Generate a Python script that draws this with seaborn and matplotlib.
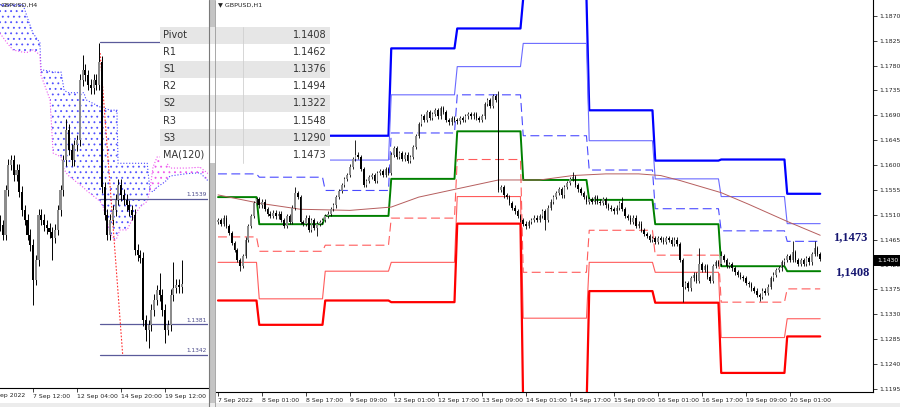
import numpy as np
import matplotlib
matplotlib.use("Agg")
import matplotlib.pyplot as plt
import seaborn as sns
from matplotlib.patches import Rectangle

# --- H1 chart (right panel) ---
h1_open0 = 1.1497
h1_close = [
    1.1501, 1.1494, 1.1505, 1.1490, 1.1477, 1.1459, 1.1446, 1.1428, 1.1417, 1.1435,
    1.1465, 1.1490, 1.1508, 1.1531, 1.1538, 1.1527, 1.1534, 1.1520, 1.1512, 1.1508,
    1.1514, 1.1507, 1.1512, 1.1501, 1.1490, 1.1508, 1.1497, 1.1523, 1.1549, 1.1542,
    1.1497, 1.1494, 1.1505, 1.1483, 1.1501, 1.1487, 1.1494, 1.1497, 1.1501, 1.1508,
    1.1512, 1.1520, 1.1527, 1.1542, 1.1553, 1.1564, 1.1575, 1.1582, 1.1597, 1.1611,
    1.1619, 1.1615, 1.1593, 1.1564, 1.1571, 1.1578, 1.1582, 1.1571, 1.1586, 1.1589,
    1.1582, 1.1593, 1.1586, 1.1619, 1.1630, 1.1615, 1.1622, 1.1611, 1.1619, 1.1608,
    1.1615, 1.1633, 1.1652, 1.1674, 1.1688, 1.1681, 1.1696, 1.1685, 1.1692, 1.1699,
    1.1688, 1.1703, 1.1696, 1.1681, 1.1677, 1.1685, 1.1681, 1.1679, 1.1685, 1.1681,
    1.1688, 1.1692, 1.1688, 1.1692, 1.1685, 1.1681, 1.1688, 1.1710, 1.1718, 1.1707,
    1.1725, 1.1718, 1.1555, 1.1560, 1.1545, 1.1542, 1.1531, 1.1523, 1.1516, 1.1508,
    1.1501, 1.1494, 1.1490, 1.1497, 1.1501, 1.1505, 1.1501, 1.1508, 1.1516, 1.1501,
    1.1523, 1.1534, 1.1542, 1.1549, 1.1556, 1.1545, 1.1560, 1.1567, 1.1575, 1.1578,
    1.1564, 1.1556, 1.1549, 1.1542, 1.1534, 1.1538, 1.1534, 1.1542, 1.1534, 1.1531,
    1.1538, 1.1527, 1.1523, 1.1520, 1.1516, 1.1523, 1.1531, 1.1520, 1.1508, 1.1505,
    1.1497, 1.1505, 1.1490, 1.1494, 1.1483, 1.1475, 1.1472, 1.1465, 1.1468, 1.1461,
    1.1468, 1.1465, 1.1461, 1.1468, 1.1465, 1.1457, 1.1465, 1.1457, 1.1428, 1.1380,
    1.1387, 1.1377, 1.1395, 1.1402, 1.1391, 1.1421, 1.1410, 1.1417, 1.1398, 1.1391,
    1.1417, 1.1424, 1.1421, 1.1435, 1.1428, 1.1417, 1.1421, 1.1413, 1.1406, 1.1402,
    1.1398, 1.1395, 1.1387, 1.1384, 1.1377, 1.1373, 1.1365, 1.1362, 1.1373, 1.1369,
    1.1380, 1.1395, 1.1402, 1.1410, 1.1413, 1.1424, 1.1428, 1.1435, 1.1428, 1.1443,
    1.1428, 1.1421, 1.1428, 1.1421, 1.1432, 1.1424, 1.1439, 1.1450, 1.1439, 1.1430,
]
h1_hi_bars = [28, 50, 102, 129, 147, 175, 183, 209, 217]
h1_hi_vals = [1.1560, 1.1646, 1.1734, 1.1587, 1.1542, 1.1450, 1.1445, 1.1462, 1.1462]
h1_lo_bars = [8, 36, 112, 119, 169, 197]
h1_lo_vals = [1.1408, 1.1472, 1.1485, 1.1483, 1.1353, 1.1354]

# daily pivot levels, one value per day
day_start = [0, 15, 39, 63, 87, 111, 135, 159, 183, 207]
last_bar = 219
piv_p = [1.1542, 1.1493, 1.1508, 1.1575, 1.1661, 1.1573, 1.1537, 1.1493, 1.1417, 1.1408]
piv_r1 = [1.1584, 1.1578, 1.1554, 1.1658, 1.1727, 1.1653, 1.1591, 1.1521, 1.1481, 1.1462]
piv_r2 = [1.1659, 1.1627, 1.1609, 1.1727, 1.1778, 1.1820, 1.1644, 1.1575, 1.1543, 1.1494]
piv_r3 = [1.1702, 1.1713, 1.1653, 1.1811, 1.1847, 1.1902, 1.1699, 1.1608, 1.1610, 1.1548]
piv_s1 = [1.1470, 1.1444, 1.1455, 1.1504, 1.1610, 1.1406, 1.1482, 1.1437, 1.1352, 1.1376]
piv_s2 = [1.1424, 1.1358, 1.1408, 1.1424, 1.1543, 1.1323, 1.1424, 1.1406, 1.1288, 1.1322]
piv_s3 = [1.1355, 1.1311, 1.1355, 1.1352, 1.1494, 1.1156, 1.1372, 1.1351, 1.1224, 1.1290]

ma_bars = [0, 15, 30, 48, 63, 73, 87, 102, 117, 129, 141, 153, 161, 168, 183, 193, 207, 219]
ma_vals = [1.1546, 1.1531, 1.1520, 1.1518, 1.1524, 1.1542, 1.1557, 1.1573, 1.1573, 1.1581,
           1.1584, 1.1584, 1.1581, 1.1572, 1.1550, 1.1529, 1.1498, 1.1473]

h1_tick_bars = [0, 16, 32, 48, 64, 80, 96, 112, 128, 144, 160, 176, 192, 208]
h1_tick_labels = ["7 Sep 2022", "8 Sep 01:00", "8 Sep 17:00", "9 Sep 09:00", "12 Sep 01:00",
                  "12 Sep 17:00", "13 Sep 09:00", "14 Sep 01:00", "14 Sep 17:00", "15 Sep 09:00",
                  "16 Sep 01:00", "16 Sep 17:00", "19 Sep 09:00", "20 Sep 01:00"]
price_ticks = [1.1195, 1.1240, 1.1285, 1.1330, 1.1375, 1.1420, 1.1465, 1.1510,
               1.1555, 1.1600, 1.1645, 1.1690, 1.1735, 1.1780, 1.1825, 1.1870]

# --- H4 chart (left panel) ---
h4_open0 = 1.1512
h4_close = [
    1.1506, 1.1494, 1.1550, 1.1582, 1.1588, 1.1569, 1.1576, 1.1548, 1.1525, 1.1513,
    1.1494, 1.1481, 1.1437, 1.1462, 1.1519, 1.1513, 1.1506, 1.1502, 1.1497, 1.1490,
    1.1500, 1.1525, 1.1550, 1.1588, 1.1626, 1.1601, 1.1588, 1.1607, 1.1613, 1.1689,
    1.1702, 1.1695, 1.1683, 1.1679, 1.1689, 1.1683, 1.1712, 1.1554, 1.1519, 1.1494,
    1.1513, 1.1525, 1.1538, 1.1557, 1.1544, 1.1538, 1.1531, 1.1525, 1.1519, 1.1475,
    1.1468, 1.1465, 1.1386, 1.1374, 1.1380, 1.1399, 1.1412, 1.1424, 1.1418, 1.1399,
    1.1374, 1.1380, 1.1418, 1.1427, 1.1431, 1.1428, 1.1432,
]
h4_hi_bars = [24, 30, 36, 58, 63, 66]
h4_hi_vals = [1.1640, 1.1720, 1.1736, 1.1446, 1.1460, 1.1462]
h4_lo_bars = [12, 19, 39, 53, 54, 60]
h4_lo_vals = [1.1405, 1.1462, 1.1487, 1.1360, 1.1351, 1.1357]

cloud_x = [0, 2.5, 4.7, 8.4, 10.2, 12, 14.5, 14.9, 18.2, 19.3, 22.2, 23.3, 24.7, 30.5, 31.3,
           36.4, 37.5, 40, 41.8, 42.5, 42.9, 43.6, 46.2, 48.4, 50.9, 53.5, 54.5, 55.6, 57.1,
           59.3, 60.7, 61.8, 68, 72.7, 75.3, 76.4]
span_b = [1.1784, 1.1784, 1.1784, 1.1784, 1.1765, 1.1748, 1.1736, 1.1702, 1.1700, 1.1699,
          1.1699, 1.1676, 1.1673, 1.1673, 1.1664, 1.1655, 1.1654, 1.1651, 1.1651, 1.1651,
          1.1584, 1.1584, 1.1584, 1.1584, 1.1584, 1.1584, 1.1550, 1.1548, 1.1554, 1.1559,
          1.1563, 1.1568, 1.1571, 1.1572, 1.1563, 1.1560]
span_a = [1.1748, 1.1736, 1.1727, 1.1724, 1.1724, 1.1727, 1.1721, 1.1695, 1.1664, 1.1597,
          1.1592, 1.1576, 1.1569, 1.1553, 1.1550, 1.1536, 1.1529, 1.1496, 1.1487, 1.1490,
          1.1494, 1.1500, 1.1500, 1.1516, 1.1529, 1.1536, 1.1550, 1.1579, 1.1592, 1.1592,
          1.1584, 1.1578, 1.1578, 1.1579, 1.1572, 1.1569]

h4_levels = [1.1737, 1.1539, 1.1381, 1.1342]
h4_level_labels = ["", "1.1539", "1.1381", "1.1342"]
h4_trend_x = [36.4, 44.6]
h4_trend_y = [1.1723, 1.1342]
h4_tick_bars = [12, 28, 44, 60]
h4_tick_labels = ["7 Sep 12:00", "12 Sep 04:00", "14 Sep 20:00", "19 Sep 12:00"]

# --- pivot table ---
table_labels = ["Pivot", "R1", "S1", "R2", "S2", "R3", "S3", "MA(120)"]
table_values = ["1.1408", "1.1462", "1.1376", "1.1494", "1.1322", "1.1548", "1.1290", "1.1473"]

sns.set_style("white")
plt.rcParams["font.family"] = ["DejaVu Sans"]
plt.rcParams["hatch.linewidth"] = 0.6

W, H = 900, 407
fig = plt.figure(figsize=(W / 100, H / 100), dpi=100)


def draw_candles(ax, closes, open0, wick, hi_bars, hi_vals, lo_bars, lo_vals, width, wick_lw):
    closes = np.array(closes)
    opens = np.concatenate([[open0], closes[:-1]])
    x = np.arange(len(closes))
    highs = np.maximum(opens, closes) + wick
    lows = np.minimum(opens, closes) - wick
    for b, v in zip(hi_bars, hi_vals):
        highs[b] = max(highs[b], v)
    for b, v in zip(lo_bars, lo_vals):
        lows[b] = min(lows[b], v)
    colors = np.where(closes >= opens, "#8c8c8c", "#000000")
    ax.vlines(x, lows, highs, colors="black", lw=wick_lw, zorder=5)
    ax.bar(x, np.maximum(np.abs(closes - opens), 0.00008), bottom=np.minimum(opens, closes),
           width=width, color=colors, linewidth=0, zorder=6)


def level_xy(values):
    ends = day_start[1:] + [last_bar + 1]
    xs, ys = [], []
    for s, e, v in zip(day_start, ends, values):
        xs += [s, e - 1]
        ys += [v, v]
    return xs, ys


# ---------------- right panel (H1) ----------------
ax = fig.add_axes([216 / W, 15 / H, (873 - 216) / W, 392 / H])
ax.set_xlim(-0.73, 238.2)
ax.set_ylim(1.11895, 1.18985)

level_styles = [
    (piv_r3, "#0000ff", 1.6, "-"),
    (piv_r2, "#6a6aff", 0.8, "-"),
    (piv_r1, "#4a4aff", 0.8, (0, (8, 4))),
    (piv_p, "#008000", 1.4, "-"),
    (piv_s1, "#ff5c5c", 0.8, (0, (8, 4))),
    (piv_s2, "#ff5c5c", 0.8, "-"),
    (piv_s3, "#ff0000", 1.6, "-"),
]
for vals, col, lw, ls in level_styles:
    xs, ys = level_xy(vals)
    sns.lineplot(x=xs, y=ys, ax=ax, color=col, lw=lw, linestyle=ls,
                 estimator=None, sort=False, zorder=3)

sns.lineplot(x=ma_bars, y=ma_vals, ax=ax, color="#b65e5e", lw=0.7,
             estimator=None, sort=False, zorder=4)

draw_candles(ax, h1_close, h1_open0, 0.0004, h1_hi_bars, h1_hi_vals,
             h1_lo_bars, h1_lo_vals, 0.55, 0.6)

ax.yaxis.tick_right()
ax.set_yticks(price_ticks)
ax.set_yticklabels([f"{v:.4f}" for v in price_ticks])
ax.set_xticks(h1_tick_bars)
ax.set_xticklabels(h1_tick_labels)
for lbl in ax.get_xticklabels():
    lbl.set_horizontalalignment("left")
ax.tick_params(axis="y", direction="out", length=3, width=0.6, labelsize=4.4, pad=1.5,
               right=True, left=False, colors="#222222")
ax.tick_params(axis="x", direction="out", length=3, width=0.6, labelsize=4.4, pad=1.5,
               bottom=True, colors="#222222")
for side in ["top", "left"]:
    ax.spines[side].set_visible(False)
for side in ["right", "bottom"]:
    ax.spines[side].set_color("black")
    ax.spines[side].set_linewidth(0.8)
ax.set_xlabel("")
ax.set_ylabel("")

# ---------------- left panel (H4) ----------------
axl = fig.add_axes([0, 19 / H, 208 / W, 388 / H])
axl.set_xlim(0, 75.6)
axl.set_ylim(1.13007, 1.17899)

cx = np.array(cloud_x)
sa = np.array(span_a)
sb = np.array(span_b)
axl.fill_between(cx, sa, sb, where=sb >= sa, interpolate=True, facecolor="none",
                 edgecolor="#5050ff", hatch="...", linewidth=0, zorder=1)
axl.fill_between(cx, sa, sb, where=sa > sb, interpolate=True, facecolor="none",
                 edgecolor="#ee55ee", hatch="...", linewidth=0, zorder=1)
axl.plot(cx, sb, color="#4848ff", lw=0.8, ls=":", zorder=2)
axl.plot(cx, sa, color="#ee55ee", lw=0.8, ls=":", zorder=2)

for lv in h4_levels:
    axl.plot([36.4, 75.6], [lv, lv], color="#5a5a9a", lw=0.9, zorder=3)
axl.plot(h4_trend_x, h4_trend_y, color="#ff3030", lw=0.8, ls=(0, (1.5, 1.5)), zorder=3)

draw_candles(axl, h4_close, h4_open0, 0.0007, h4_hi_bars, h4_hi_vals,
             h4_lo_bars, h4_lo_vals, 0.75, 0.7)

axl.set_yticks([])
axl.set_xticks(h4_tick_bars)
axl.set_xticklabels(h4_tick_labels)
for lbl in axl.get_xticklabels():
    lbl.set_horizontalalignment("left")
axl.tick_params(axis="x", direction="out", length=3, width=0.6, labelsize=4.4, pad=1.5,
                bottom=True, colors="#222222")
for side in ["top", "left", "right"]:
    axl.spines[side].set_visible(False)
axl.spines["bottom"].set_color("black")
axl.spines["bottom"].set_linewidth(0.8)

# ---------------- overlay (pixel coordinates) ----------------
ov = fig.add_axes([0, 0, 1, 1], zorder=10)
ov.set_xlim(0, W)
ov.set_ylim(H, 0)
ov.axis("off")
ov.patch.set_alpha(0)

# window separator and bottom strip
ov.add_patch(Rectangle((208.5, 0), 6.5, 407, facecolor="#c4c4c4", edgecolor="none"))
ov.plot([208.5, 208.5], [0, 407], color="#7a7a7a", lw=0.8)
ov.plot([215, 215], [0, 407], color="#9a9a9a", lw=0.6)
ov.add_patch(Rectangle((0, 403), 900, 4, facecolor="#ececec", edgecolor="none"))
# first H4 date label, partly hidden by the window edge in the original
ov.text(0.5, 395, "ep 2022", fontsize=4.4, color="#222222", va="center", ha="left")

# chart titles
ov.text(1, 5, "GBPUSD,H4", fontsize=4.6, color="#222222", va="center", ha="left")
ov.text(218, 5, "▼ GBPUSD,H1", fontsize=4.6, color="#222222", va="center", ha="left")

# H4 level labels
h4_px = [42, 199, 324, 355]
for py, txt in zip(h4_px, h4_level_labels):
    if txt:
        ov.text(207, py - 1.5, txt, fontsize=4.2, color="#4a4a8a", ha="right", va="bottom")

# pivot table
row_h = 17.1
for i, (lab, val) in enumerate(zip(table_labels, table_values)):
    y0 = 26.5 + i * row_h
    fc = "#e6e6e6" if i % 2 == 0 else "#ffffff"
    ov.add_patch(Rectangle((160, y0), 170, row_h, facecolor=fc, edgecolor="none"))
    ov.text(163, y0 + row_h / 2, lab, fontsize=7, color="#333333", va="center", ha="left")
    ov.text(327, y0 + row_h / 2, val, fontsize=7, color="#333333", va="center", ha="right")
ov.plot([243, 243], [26.5, 26.5 + 8 * row_h], color="#d0d0d0", lw=0.6)

# value labels on the H1 chart
ov.text(833, 237.5, "1,1473", fontsize=9, fontweight="bold", color="#151570",
        family=["Liberation Serif", "DejaVu Serif"], va="center", ha="left")
ov.text(835, 271.7, "1,1408", fontsize=9, fontweight="bold", color="#151570",
        family=["Liberation Serif", "DejaVu Serif"], va="center", ha="left")

# current price marker
ov.add_patch(Rectangle((874, 255), 26, 11, facecolor="black", edgecolor="none"))
ov.text(877, 260.5, "1.1430", fontsize=4.4, color="white", va="center", ha="left")

fig.savefig("out.png", dpi=100)
